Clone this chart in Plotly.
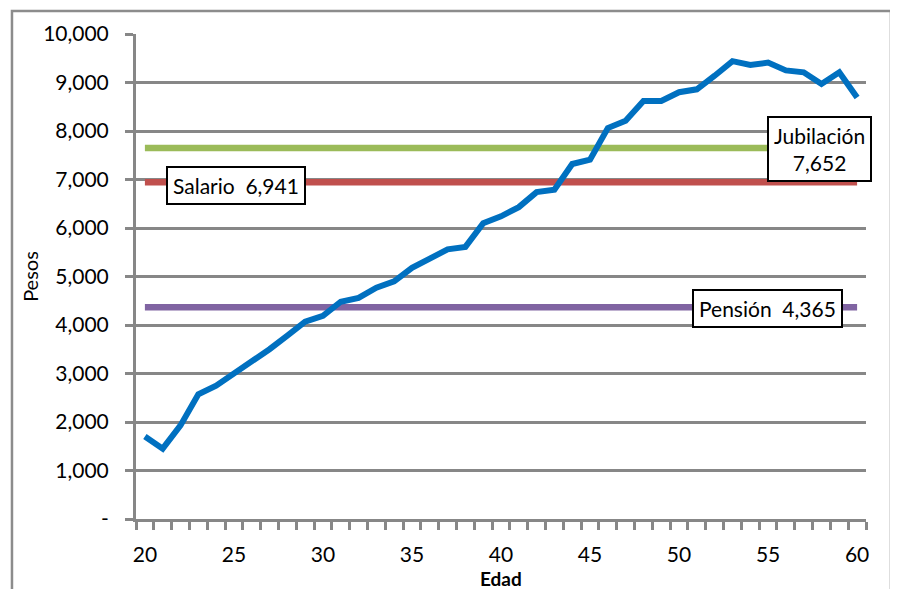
import plotly.graph_objects as go

edad = list(range(20, 61))
salario_edad = [1700, 1450, 1930, 2570, 2750, 2990, 3250, 3500, 3780, 4070,
                4190, 4480, 4560, 4770, 4900, 5180, 5370, 5560, 5610, 6100,
                6240, 6430, 6740, 6790, 7320, 7410, 8060, 8210, 8620, 8620,
                8800, 8860, 9140, 9440, 9360, 9410, 9250, 9210, 8970, 9210,
                8690]
salario_prom = 6941
jubilacion = 7652
pension = 4365

y_ticks = [0, 1000, 2000, 3000, 4000, 5000, 6000, 7000, 8000, 9000, 10000]
y_labels = ["-", "1,000", "2,000", "3,000", "4,000", "5,000", "6,000",
            "7,000", "8,000", "9,000", "10,000"]
x_ticks = [20, 25, 30, 35, 40, 45, 50, 55, 60]

FONT = "Lato"
GRID = "#878787"
FS = 21

fig = go.Figure()
fig.add_trace(go.Scatter(x=[edad[0], edad[-1]], y=[jubilacion, jubilacion], mode="lines",
                         line=dict(color="#9BBB59", width=6.5), hoverinfo="skip"))
fig.add_trace(go.Scatter(x=[edad[0], edad[-1]], y=[salario_prom, salario_prom], mode="lines",
                         line=dict(color="#C0504D", width=6.5), hoverinfo="skip"))
fig.add_trace(go.Scatter(x=[edad[0], edad[-1]], y=[pension, pension], mode="lines",
                         line=dict(color="#8064A2", width=6.5), hoverinfo="skip"))
fig.add_trace(go.Scatter(x=edad, y=salario_edad, mode="lines",
                         line=dict(color="#0070C0", width=6), line_shape="linear"))

ann_common = dict(showarrow=False, bgcolor="white", bordercolor="black", borderwidth=2,
                  font=dict(family=FONT, size=FS, color="black"), xref="x", yref="y")
fig.add_annotation(x=25.1, y=6880, text="Salario  6,941", borderpad=5, **ann_common)
fig.add_annotation(x=54.94, y=4343, text="Pensión  4,365", borderpad=5, **ann_common)
fig.add_annotation(x=57.9, y=7620, text="Jubilación<br>7,652", align="center",
                   borderpad=5, **ann_common)

# x-axis title
fig.add_annotation(x=0.5, y=-0.122, xref="paper", yref="paper", showarrow=False,
                   text="<b>Edad</b>", yanchor="middle",
                   font=dict(family=FONT, size=19, color="black"))

# outer chart border
fig.add_shape(type="rect", xref="paper", yref="paper", x0=-0.1699, x1=1.0342,
              y0=-0.3, y1=1.0472, line=dict(color="#8C8C8C", width=2.5), layer="below")

fig.update_layout(
    width=898, height=589,
    margin=dict(l=128, r=40, t=24, b=78),
    paper_bgcolor="white", plot_bgcolor="white",
    showlegend=False,
    font=dict(family=FONT, size=FS, color="black"),
    xaxis=dict(range=[19.5, 60.5], tickvals=x_ticks, ticks="", showgrid=False,
               showline=True, linecolor=GRID, linewidth=3, zeroline=False,
               ticklabelstandoff=15,
               tickfont=dict(family=FONT, size=FS),
               minor=dict(tickmode="linear", tick0=19.5, dtick=1, ticks="outside",
                          ticklen=8, tickwidth=3, tickcolor=GRID, showgrid=False)),
    yaxis=dict(range=[0, 10000], tickvals=y_ticks, ticktext=y_labels,
               showgrid=True, gridcolor=GRID, gridwidth=3, ticks="outside",
               ticklen=8, tickwidth=3, tickcolor=GRID, showline=True, linecolor=GRID,
               linewidth=3, zeroline=False, ticklabelstandoff=12,
               tickfont=dict(family=FONT, size=FS),
               title=dict(text="Pesos", font=dict(family=FONT, size=20), standoff=0)),
)

fig.write_html("out.html")
